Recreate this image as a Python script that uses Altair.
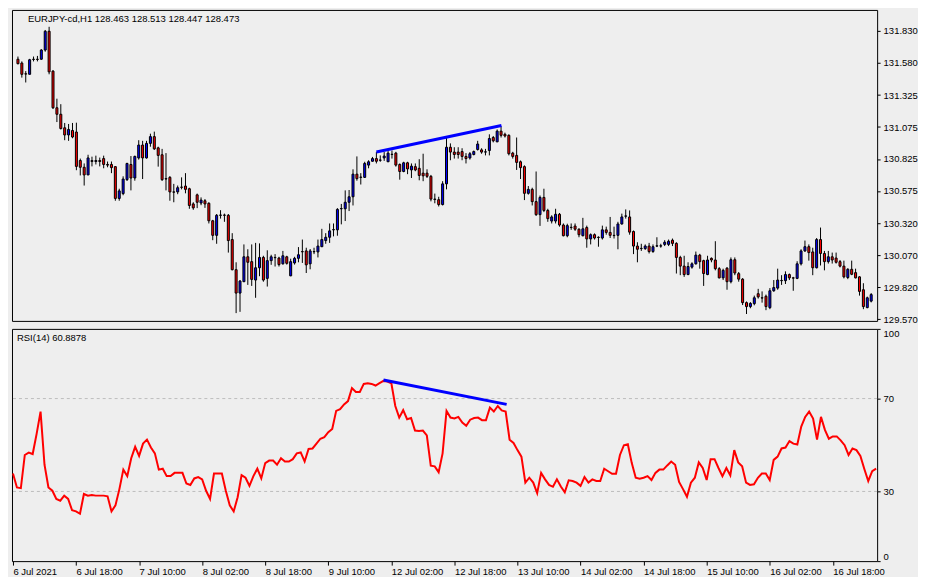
import json
import altair as alt
import pandas as pd

# ---------------- data ----------------
opens = [131.606, 131.576, 131.492, 131.488, 131.606, 131.606, 131.606, 131.678, 131.825, 131.513,
         131.226, 131.175, 131.069, 131.013, 131.048, 131.036, 130.813, 130.760, 130.700, 130.813,
         130.805, 130.813, 130.828, 130.782, 130.782, 130.765, 130.516, 130.554, 130.663, 130.782,
         130.676, 130.833, 130.934, 130.833, 130.947, 131.000, 130.912, 130.858, 130.668, 130.681,
         130.567, 130.567, 130.605, 130.613, 130.592, 130.473, 130.544, 130.480, 130.498, 130.478,
         130.341, 130.227, 130.384, 130.386, 130.384, 130.194, 129.958, 129.775, 129.864, 130.059,
         130.021, 129.877, 129.973, 130.054, 129.890, 130.029, 130.054, 130.049, 130.004, 130.059,
         129.910, 130.011, 130.047, 130.100, 130.105, 130.004, 130.100, 130.097, 130.138, 130.186,
         130.212, 130.270, 130.270, 130.435, 130.435, 130.486, 130.529, 130.706, 130.681, 130.681,
         130.777, 130.807, 130.828, 130.815, 130.833, 130.803, 130.860, 130.871, 130.782, 130.727,
         130.795, 130.739, 130.765, 130.752, 130.714, 130.714, 130.689, 130.511, 130.506, 130.468,
         130.630, 130.917, 130.879, 130.879, 130.883, 130.845, 130.833, 130.860, 130.899, 130.896,
         130.879, 130.891, 130.993, 130.959, 131.043, 131.018, 131.010, 130.871, 130.853, 130.803,
         130.765, 130.556, 130.587, 130.491, 130.389, 130.524, 130.422, 130.339, 130.339, 130.392,
         130.308, 130.224, 130.290, 130.300, 130.275, 130.224, 130.288, 130.199, 130.232, 130.212,
         130.206, 130.270, 130.250, 130.227, 130.227, 130.316, 130.377, 130.371, 130.257, 130.143,
         130.123, 130.123, 130.143, 130.100, 130.143, 130.143, 130.156, 130.156, 130.189, 130.164,
         130.054, 129.986, 129.920, 129.978, 130.004, 130.072, 130.029, 129.920, 130.047, 130.034,
         129.966, 129.894, 129.970, 129.864, 130.036, 129.927, 129.884, 129.700, 129.669, 129.692,
         129.770, 129.738, 129.750, 129.661, 129.793, 129.814, 129.872, 129.872, 129.920, 129.894,
         129.890, 130.004, 130.105, 130.138, 130.097, 129.973, 130.194, 130.085, 130.021, 130.059,
         130.049, 130.021, 129.986, 129.897, 129.961, 129.935, 129.902, 129.801, 129.661, 129.712]

closes = [131.571, 131.488, 131.490, 131.602, 131.604, 131.604, 131.678, 131.825, 131.507, 131.226,
          131.175, 131.063, 131.013, 131.056, 130.997, 130.767, 130.760, 130.700, 130.833, 130.805,
          130.813, 130.805, 130.782, 130.777, 130.757, 130.516, 130.575, 130.668, 130.790, 130.676,
          130.845, 130.934, 130.833, 130.947, 131.000, 130.904, 130.853, 130.663, 130.671, 130.567,
          130.565, 130.600, 130.603, 130.587, 130.461, 130.442, 130.486, 130.503, 130.473, 130.341,
          130.227, 130.384, 130.386, 130.384, 130.186, 129.958, 129.775, 129.869, 130.059, 130.016,
          129.882, 129.973, 130.054, 129.877, 130.029, 130.059, 130.052, 129.998, 130.067, 130.008,
          130.021, 130.047, 130.075, 130.098, 129.996, 130.105, 130.098, 130.143, 130.194, 130.212,
          130.262, 130.272, 130.430, 130.437, 130.486, 130.529, 130.706, 130.671, 130.683, 130.790,
          130.803, 130.828, 130.807, 130.817, 130.848, 130.871, 130.862, 130.777, 130.727, 130.795,
          130.747, 130.769, 130.739, 130.696, 130.693, 130.689, 130.511, 130.508, 130.468, 130.630,
          130.917, 130.879, 130.860, 130.860, 130.845, 130.828, 130.866, 130.883, 130.942, 130.879,
          130.881, 130.985, 130.967, 131.043, 131.010, 131.005, 130.866, 130.845, 130.798, 130.757,
          130.556, 130.587, 130.491, 130.389, 130.524, 130.422, 130.358, 130.371, 130.392, 130.308,
          130.224, 130.303, 130.288, 130.275, 130.232, 130.278, 130.199, 130.232, 130.206, 130.210,
          130.270, 130.250, 130.227, 130.225, 130.316, 130.371, 130.379, 130.252, 130.143, 130.118,
          130.125, 130.143, 130.100, 130.138, 130.145, 130.145, 130.173, 130.181, 130.164, 130.054,
          129.986, 129.920, 129.983, 130.004, 130.072, 130.021, 129.928, 130.034, 130.034, 129.966,
          129.894, 129.953, 129.864, 130.036, 129.932, 129.884, 129.700, 129.669, 129.694, 129.738,
          129.745, 129.736, 129.669, 129.793, 129.818, 129.877, 129.874, 129.920, 129.894, 129.892,
          130.004, 130.105, 130.138, 130.092, 129.973, 130.194, 130.085, 130.021, 130.059, 130.034,
          130.016, 129.986, 129.902, 129.961, 129.922, 129.894, 129.788, 129.669, 129.738, 129.763]

highs = [131.627, 131.589, 131.513, 131.609, 131.627, 131.632, 131.685, 131.835, 131.860, 131.520,
         131.297, 131.254, 131.107, 131.099, 131.107, 131.109, 130.828, 130.790, 130.858, 130.843,
         130.851, 130.836, 130.851, 130.805, 130.805, 130.767, 130.592, 130.689, 130.795, 130.848,
         130.851, 130.972, 130.967, 130.967, 131.023, 131.039, 130.921, 130.904, 130.871, 130.691,
         130.630, 130.617, 130.681, 130.714, 130.600, 130.486, 130.554, 130.524, 130.511, 130.486,
         130.348, 130.394, 130.424, 130.397, 130.394, 130.244, 130.016, 129.877, 130.156, 130.118,
         130.156, 130.168, 130.164, 130.067, 130.110, 130.075, 130.080, 130.059, 130.105, 130.067,
         130.044, 130.059, 130.135, 130.194, 130.130, 130.120, 130.130, 130.194, 130.278, 130.244,
         130.320, 130.320, 130.440, 130.473, 130.579, 130.582, 130.744, 130.845, 130.714, 130.803,
         130.815, 130.841, 130.879, 130.853, 130.879, 130.891, 130.891, 130.881, 130.790, 130.803,
         130.803, 130.790, 130.790, 130.823, 130.866, 130.744, 130.700, 130.554, 130.529, 130.651,
         130.993, 130.947, 130.917, 130.917, 130.909, 130.871, 130.879, 130.891, 130.967, 130.909,
         130.904, 131.018, 131.005, 131.056, 131.081, 131.031, 131.018, 130.881, 130.993, 130.813,
         130.775, 130.613, 130.600, 130.727, 130.539, 130.592, 130.435, 130.384, 130.435, 130.402,
         130.320, 130.318, 130.320, 130.320, 130.282, 130.364, 130.303, 130.242, 130.242, 130.219,
         130.303, 130.295, 130.371, 130.295, 130.333, 130.397, 130.430, 130.422, 130.265, 130.173,
         130.161, 130.156, 130.168, 130.156, 130.212, 130.161, 130.189, 130.194, 130.202, 130.173,
         130.067, 130.067, 130.016, 130.016, 130.100, 130.082, 130.036, 130.067, 130.054, 130.181,
         129.978, 129.966, 129.978, 130.054, 130.054, 129.940, 129.892, 129.709, 129.704, 129.755,
         129.808, 129.788, 129.763, 129.814, 129.877, 129.966, 129.915, 129.945, 129.928, 129.902,
         130.024, 130.118, 130.186, 130.156, 130.130, 130.206, 130.288, 130.105, 130.105, 130.092,
         130.092, 130.034, 130.029, 129.970, 130.029, 129.966, 129.907, 129.852, 129.747, 129.775]

lows = [131.566, 131.462, 131.424, 131.488, 131.589, 131.589, 131.602, 131.665, 131.488, 131.216,
        131.114, 131.056, 130.972, 130.967, 130.987, 130.737, 130.696, 130.617, 130.699, 130.767,
        130.782, 130.767, 130.752, 130.760, 130.714, 130.498, 130.498, 130.541, 130.653, 130.579,
        130.655, 130.820, 130.668, 130.828, 130.921, 130.896, 130.765, 130.653, 130.579, 130.498,
        130.486, 130.549, 130.587, 130.556, 130.435, 130.427, 130.440, 130.463, 130.442, 130.320,
        130.189, 130.161, 130.358, 130.333, 130.092, 129.953, 129.618, 129.628, 129.861, 129.839,
        129.831, 129.738, 129.907, 129.864, 129.826, 129.996, 129.983, 129.983, 129.998, 129.998,
        129.907, 129.998, 130.016, 130.011, 129.932, 129.961, 130.080, 130.054, 130.135, 130.161,
        130.168, 130.219, 130.224, 130.313, 130.339, 130.417, 130.461, 130.655, 130.625, 130.676,
        130.752, 130.805, 130.790, 130.803, 130.810, 130.801, 130.828, 130.765, 130.663, 130.721,
        130.706, 130.676, 130.729, 130.658, 130.651, 130.676, 130.493, 130.478, 130.453, 130.461,
        130.587, 130.815, 130.828, 130.828, 130.815, 130.790, 130.820, 130.853, 130.891, 130.866,
        130.853, 130.853, 130.955, 130.957, 130.993, 130.993, 130.853, 130.828, 130.739, 130.668,
        130.503, 130.546, 130.461, 130.379, 130.301, 130.409, 130.333, 130.320, 130.320, 130.295,
        130.219, 130.212, 130.270, 130.262, 130.212, 130.219, 130.130, 130.156, 130.194, 130.138,
        130.194, 130.232, 130.206, 130.202, 130.118, 130.311, 130.358, 130.232, 130.080, 130.016,
        130.105, 130.113, 130.085, 130.090, 130.135, 130.130, 130.143, 130.143, 130.143, 129.928,
        129.915, 129.902, 129.915, 129.966, 129.998, 129.966, 129.831, 129.915, 130.016, 129.953,
        129.890, 129.877, 129.801, 129.851, 129.915, 129.864, 129.681, 129.611, 129.656, 129.679,
        129.732, 129.700, 129.641, 129.649, 129.785, 129.801, 129.839, 129.846, 129.877, 129.793,
        129.884, 129.991, 130.097, 130.029, 129.915, 129.968, 129.991, 129.953, 130.006, 130.006,
        130.006, 129.976, 129.890, 129.884, 129.915, 129.890, 129.755, 129.649, 129.656, 129.702]

rsi = [37.7, 31.7, 31.4, 45.7, 46.7, 46.1, 54.8, 64.4, 41.5, 31.7,
       30.3, 26.8, 26.0, 28.2, 26.8, 21.9, 21.4, 20.4, 28.9, 28.2,
       28.5, 28.2, 28.2, 28.2, 27.9, 21.4, 24.0, 31.0, 39.4, 36.6,
       44.3, 49.2, 45.3, 50.6, 52.3, 48.9, 46.4, 39.4, 39.8, 36.6,
       36.6, 38.0, 38.0, 38.0, 33.4, 32.8, 35.6, 36.2, 35.2, 30.3,
       26.8, 37.7, 37.7, 37.7, 30.3, 24.0, 21.4, 27.5, 37.0, 35.9,
       32.4, 36.6, 39.8, 35.6, 42.2, 43.3, 43.3, 41.5, 44.3, 42.9,
       42.9, 43.9, 46.4, 46.8, 42.9, 48.3, 48.5, 50.6, 52.7, 53.4,
       55.5, 56.9, 64.7, 65.4, 67.5, 68.9, 74.5, 72.8, 72.8, 76.3,
       76.6, 76.3, 75.6, 76.6, 77.6, 77.3, 76.6, 66.8, 61.8, 65.0,
       61.1, 61.6, 56.2, 56.0, 56.2, 54.1, 41.1, 40.8, 38.3, 46.4,
       64.7, 61.8, 61.4, 62.1, 59.7, 58.3, 60.9, 61.6, 61.8, 60.7,
       60.7, 66.1, 64.4, 66.8, 64.9, 64.4, 52.3, 50.9, 47.8, 45.0,
       33.8, 35.9, 33.8, 29.3, 38.0, 35.2, 32.8, 32.0, 35.2, 32.1,
       29.6, 34.8, 34.5, 33.8, 32.4, 36.2, 33.8, 35.2, 34.5, 34.5,
       39.8, 38.7, 37.6, 37.6, 45.7, 49.9, 50.3, 42.2, 35.9, 35.5,
       35.9, 36.6, 34.9, 38.0, 39.4, 39.4, 41.2, 42.9, 41.5, 34.1,
       31.0, 27.7, 33.8, 35.9, 42.5, 40.1, 34.9, 43.9, 43.9, 40.1,
       36.6, 40.1, 36.9, 47.8, 42.5, 40.8, 33.8, 32.8, 33.1, 35.9,
       37.7, 37.7, 34.9, 43.6, 45.0, 48.5, 48.9, 51.7, 50.6, 50.2,
       57.9, 62.1, 64.4, 61.4, 52.3, 62.1, 56.5, 52.7, 53.7, 53.7,
       52.0, 49.9, 45.7, 48.5, 47.8, 45.3, 39.7, 34.5, 38.7, 39.8]

price_ticks = [129.570, 129.820, 130.070, 130.320, 130.575, 130.825, 131.075, 131.325, 131.580, 131.830]
rsi_ticks = [0, 30, 70, 100]
rsi_levels = [30, 70]
time_tick_bars = [0, 16, 32, 48, 64, 80, 96, 112, 128, 144, 160, 176, 192, 208]
time_tick_labels = ["6 Jul 2021", "6 Jul 18:00", "7 Jul 10:00", "8 Jul 02:00", "8 Jul 18:00",
                    "9 Jul 10:00", "12 Jul 02:00", "12 Jul 18:00", "13 Jul 10:00", "14 Jul 02:00",
                    "14 Jul 18:00", "15 Jul 10:00", "16 Jul 02:00", "16 Jul 18:00"]
price_trend_bar = [92, 124.1]
price_trend_val = [130.879, 131.087]
rsi_trend_bar = [94, 125.25]
rsi_trend_val = [78.0, 67.5]
header_text = "EURJPY-cd,H1  128.463 128.513 128.447 128.473"
rsi_text = "RSI(14) 60.8878"

# ---------------- chart ----------------
FONT = "Liberation Sans"
W, H1, H2 = 868, 312, 233

n = len(closes)
df = pd.DataFrame({"bar": list(range(n)), "open": opens, "high": highs,
                   "low": lows, "close": closes, "rsi": rsi})

xscale = alt.Scale(domain=[-0.25, 219.25], nice=False, zero=False)
pscale = alt.Scale(domain=[129.557, 131.992], nice=False, zero=False)
rscale = alt.Scale(domain=[0, 100], nice=False, zero=False)

base = alt.Chart(df)

wick = base.mark_rule(color="black", strokeWidth=1).encode(
    x=alt.X("bar:Q", scale=xscale, axis=None),
    y=alt.Y("low:Q", scale=pscale, title=None,
            axis=alt.Axis(orient="right", values=price_ticks, tickCount=len(price_ticks),
                          format=".3f", tickSize=3, labelPadding=3, labelFlush=False,
                          labelOverlap=False, labelBound=False)),
    y2="high:Q",
)
body = base.mark_bar(size=2, stroke="black", strokeWidth=1).encode(
    x="bar:Q",
    y="open:Q",
    y2="close:Q",
    fill=alt.condition("datum.close >= datum.open", alt.value("#0000FF"), alt.value("#FF0000")),
)
trend = alt.Chart(pd.DataFrame({"bar": price_trend_bar, "price": price_trend_val})).mark_line(
    color="#0000FF", strokeWidth=3).encode(x="bar:Q", y="price:Q")
header = alt.Chart(pd.DataFrame({"t": [header_text]})).mark_text(
    align="left", baseline="middle", font=FONT, fontSize=9.5, color="black").encode(
    x=alt.value(16), y=alt.value(9), text="t:N")

main = alt.layer(wick, body, trend, header).properties(width=W, height=H1)

label_expr = f"{json.dumps(time_tick_labels)}[indexof({json.dumps(time_tick_bars)}, datum.value)]"

levels = alt.Chart(pd.DataFrame({"lvl": rsi_levels})).mark_rule(
    color="#BDBDBD", strokeDash=[3, 3], strokeWidth=1).encode(
    y=alt.Y("lvl:Q", scale=rscale, title=None,
            axis=alt.Axis(orient="right", values=rsi_ticks, tickCount=len(rsi_ticks),
                          tickSize=3, labelPadding=3, labelFlush=True, labelOverlap=False)))
rsi_line = base.mark_line(color="#FF0000", strokeWidth=2).encode(
    x=alt.X("bar:Q", scale=xscale, title=None,
            axis=alt.Axis(values=time_tick_bars, tickCount=len(time_tick_bars),
                          labelExpr=label_expr, labelAlign="left",
                          tickSize=4, labelPadding=1, labelOverlap=False, labelBound=False,
                          labelFlush=False)),
    y="rsi:Q",
)
rsi_trend = alt.Chart(pd.DataFrame({"bar": rsi_trend_bar, "val": rsi_trend_val})).mark_line(
    color="#0000FF", strokeWidth=3).encode(x="bar:Q", y="val:Q")
rsi_header = alt.Chart(pd.DataFrame({"t": [rsi_text]})).mark_text(
    align="left", baseline="middle", font=FONT, fontSize=9.5, color="black").encode(
    x=alt.value(5), y=alt.value(9), text="t:N")

rsi_chart = alt.layer(levels, rsi_line, rsi_trend, rsi_header).properties(width=W, height=H2)

chart = alt.vconcat(main, rsi_chart, spacing=3).properties(
    padding=0, background="#EEEEEE"
).configure_view(
    stroke="black", strokeWidth=1, fill="#EEEEEE"
).configure_axis(
    labelFont=FONT, labelFontSize=9.5, labelColor="black", tickColor="black",
    domain=False, grid=False,
)

chart.save("out.html", embed_options={"renderer": "svg", "actions": False})
